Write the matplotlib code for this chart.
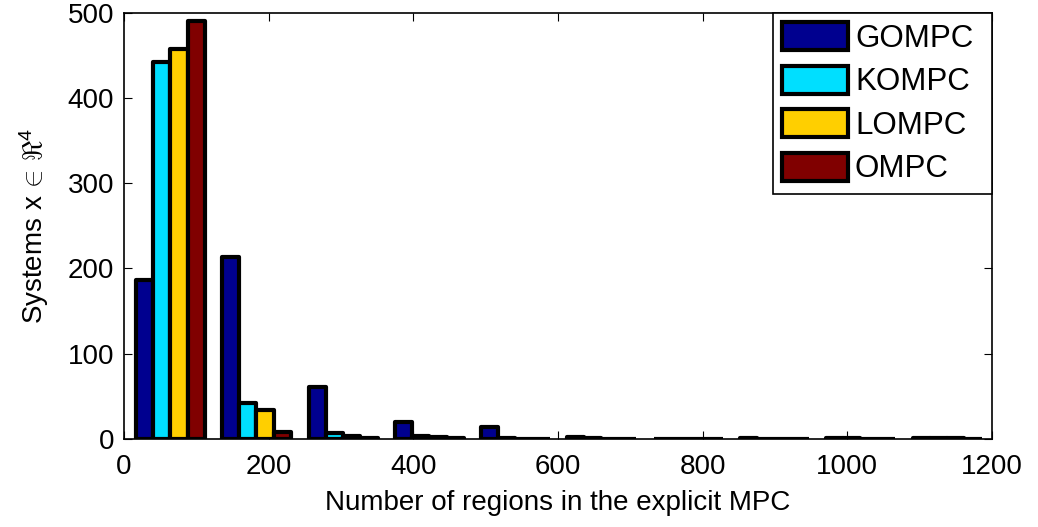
import numpy as np
import matplotlib
matplotlib.use("Agg")
import matplotlib.pyplot as plt

plt.rcParams['font.family'] = ['Liberation Sans', 'DejaVu Sans']
plt.rcParams['mathtext.fontset'] = 'custom'
plt.rcParams['mathtext.rm'] = 'Liberation Sans'
plt.rcParams['mathtext.it'] = 'Liberation Sans:italic'

# Histogram bin centres (number of regions) and counts per method
bin_centers = [64, 183, 303, 422, 541, 660, 780, 899, 1018, 1138]
gompc = [186, 214, 61, 20, 14, 2, 0, 1, 1, 1]
kompc = [442, 42, 7, 3, 1, 1, 0, 0, 1, 1]
lompc = [457, 34, 4, 2, 0, 0, 0, 0, 0, 1]
ompc = [490, 8, 1, 1, 0, 0, 0, 0, 0, 0]

series = [("GOMPC", gompc, "#00008F"),
          ("KOMPC", kompc, "#00DFFF"),
          ("LOMPC", lompc, "#FFCF00"),
          ("OMPC", ompc, "#800000")]

x_ticks = [0, 200, 400, 600, 800, 1000, 1200]
y_ticks = [0, 100, 200, 300, 400, 500]

fig = plt.figure(figsize=(10.38, 5.27), dpi=100)
ax = fig.add_axes([0.1195, 0.167, 0.8362, 0.809])

centers = np.array(bin_centers, dtype=float)
spacing = np.mean(np.diff(centers))
bar_w = 0.8 * spacing / len(series)
offsets = (np.arange(len(series)) - (len(series) - 1) / 2) * bar_w

EDGE_W = 3.0
for (name, vals, col), off in zip(series, offsets):
    ax.bar(centers + off, vals, width=bar_w, color=col, edgecolor='black',
           linewidth=EDGE_W, label=name, joinstyle='round', zorder=2)

ax.set_xlim(0, 1200)
ax.set_ylim(0, 500)
ax.set_xticks(x_ticks)
ax.set_yticks(y_ticks)
ax.tick_params(direction='in', length=6, width=0.8, labelsize=20,
               top=True, right=True)
ax.tick_params(axis='x', pad=11)
ax.tick_params(axis='y', pad=7)
for sp in ax.spines.values():
    sp.set_linewidth(1.2)

ax.set_xlabel("Number of regions in the explicit MPC", fontsize=20, labelpad=7)
ax.set_ylabel(r"Systems x $\!\in\!$ $\Re^4$", fontsize=20, labelpad=12)

leg = ax.legend(loc='upper left', bbox_to_anchor=(0.7477, 0.0, 0.2523, 1.0),
                mode='expand', fontsize=22.5, fancybox=False,
                edgecolor='black', framealpha=1, borderaxespad=0,
                handlelength=2.1, handleheight=1.0, labelspacing=0.38,
                handletextpad=0.22, borderpad=0.3)
leg.get_frame().set_linewidth(1.2)
for h in leg.legend_handles:
    h.set_linewidth(EDGE_W)

fig.savefig("out.png", dpi=100)
